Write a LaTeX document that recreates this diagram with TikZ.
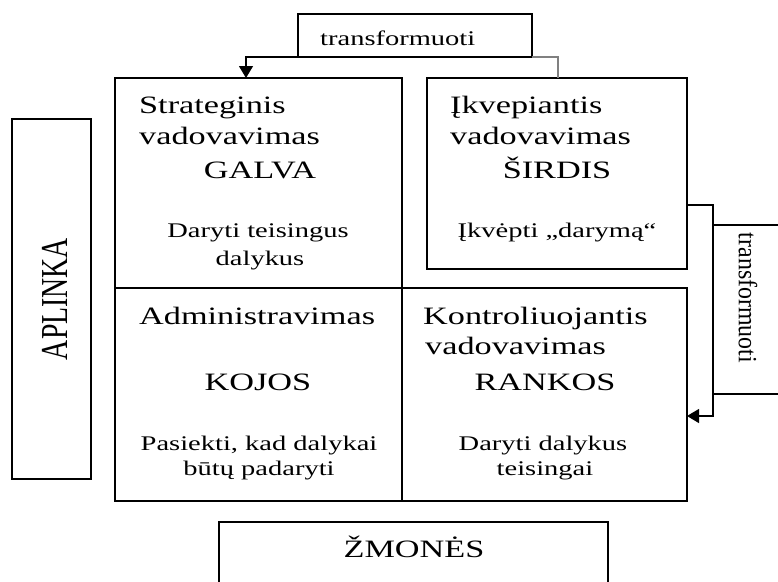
\documentclass[tikz,border=0pt]{standalone}
\usepackage{fontspec}
\setmainfont{Liberation Serif}
\usetikzlibrary{arrows.meta}
\newcommand\bigT[1]{\scalebox{1.37}[1]{\fontsize{25}{30}\selectfont #1}}
\newcommand\smallT[1]{\scalebox{1.37}[1]{\fontsize{20.8}{25}\selectfont #1}}
\begin{document}
\begin{tikzpicture}[x=1pt,y=-1pt,
  frame/.style={draw=black, line width=1.2pt, inner sep=0pt, outer sep=0pt, anchor=north west},
  lbl/.style={inner sep=0pt, anchor=base west},
  clbl/.style={inner sep=0pt, anchor=base},
  conn/.style={line width=1.2pt},
  tip/.style={-{Triangle[length=12pt,width=14pt]}}]
\useasboundingbox (0,0) rectangle (778,581);
% frames
\node[frame, minimum width=234pt, minimum height=43pt] (ttop) at (298,14) {};
\node[frame, minimum width=287pt, minimum height=210pt] (sbox) at (115,78) {};
\node[frame, minimum width=260pt, minimum height=191pt] (ibox) at (427,78) {};
\node[frame, minimum width=287pt, minimum height=213pt] (abox) at (115,288) {};
\node[frame, minimum width=285pt, minimum height=213pt] (kbox) at (402,288) {};
\node[frame, minimum width=79pt, minimum height=360pt] (aplinka) at (12,119) {};
\node[frame, minimum width=389pt, minimum height=100pt] (zmones) at (219,522) {};
\node[frame, minimum width=100pt, minimum height=169pt] (tright) at (713,225) {};
% texts
\node[lbl] (ttoptx) at (320,45) {\smallT{transformuoti}};
\node[lbl] (s1) at (139,113) {\bigT{Strateginis}};
\node[lbl] (s2) at (139,144) {\bigT{vadovavimas}};
\node[clbl] (s3) at (260,178) {\bigT{GALVA}};
\node[clbl] (s4) at (258,237) {\smallT{Daryti teisingus}};
\node[clbl] (s5) at (260,265) {\smallT{dalykus}};
\node[lbl] (i1) at (450,113) {\bigT{Įkvepiantis}};
\node[lbl] (i2) at (450,144) {\bigT{vadovavimas}};
\node[clbl] (i3) at (557,178) {\bigT{ŠIRDIS}};
\node[clbl] (i4) at (557,237) {\smallT{Įkvėpti „darymą“}};
\node[lbl] (a1) at (139,324) {\bigT{Administravimas}};
\node[clbl] (a2) at (258,390) {\bigT{KOJOS}};
\node[clbl] (a3) at (259,450) {\smallT{Pasiekti, kad dalykai}};
\node[clbl] (a4) at (259,475) {\smallT{būtų padaryti}};
\node[lbl] (k1) at (423,324) {\bigT{Kontroliuojantis}};
\node[lbl] (k2) at (425,354) {\bigT{vadovavimas}};
\node[clbl] (k3) at (545,390) {\bigT{RANKOS}};
\node[clbl] (k4) at (543,450) {\smallT{Daryti dalykus}};
\node[clbl] (k5) at (545,475) {\smallT{teisingai}};
\node[clbl] (zt) at (414,557) {\bigT{ŽMONĖS}};
\node[inner sep=0pt, rotate=90] (apt) at (55,299) {\scalebox{1}[1.37]{\fontsize{27.8}{30}\selectfont APLINKA}};
\node[inner sep=0pt, rotate=-90] (trt) at (748,298) {\scalebox{1}[1.1]{\fontsize{23.9}{28}\selectfont transformuoti}};
% connectors
\coordinate (c1) at (246,78);
\coordinate (c2) at (558,78);
\coordinate (c3) at (687,205);
\coordinate (c4) at (687,416);
\coordinate (m3) at (713,205);
\coordinate (m4) at (713,416);
\draw[conn, tip] (ttop.south west) -| (c1);
\draw[conn, draw=gray] (ttop.south east) -| (c2);
\draw[conn, tip] (c3) -- (m3) -- (m4) -- (c4);
\end{tikzpicture}
\end{document}
